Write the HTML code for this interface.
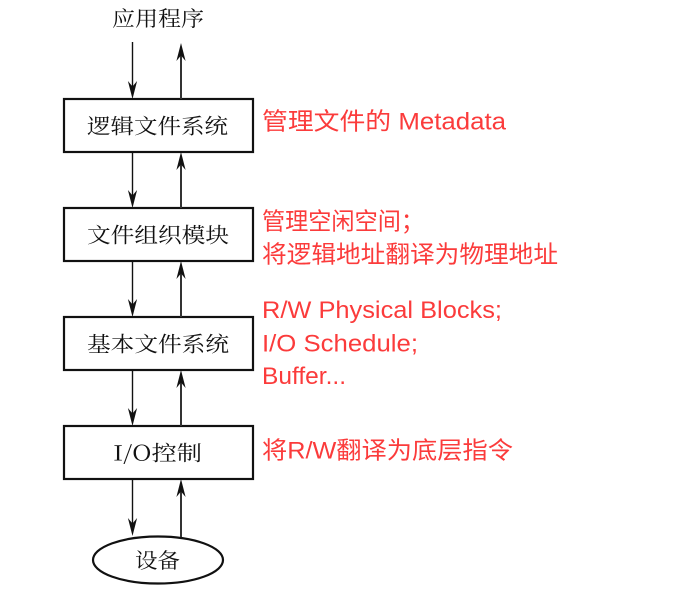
<!DOCTYPE html>
<html>
<head>
<meta charset="utf-8">
<style>
html,body{margin:0;padding:0;background:#fff;}
svg{display:block;}
.b{font-family:"Noto Serif CJK SC","Liberation Serif",serif;font-size:21px;fill:#111;}
.r{font-family:"Liberation Sans","Noto Sans CJK SC",sans-serif;font-size:24px;fill:#fb3b3b;}
</style>
</head>
<body>
<svg width="679" height="595" viewBox="0 0 679 595" xmlns="http://www.w3.org/2000/svg">
<defs>
<path id="hd" d="M0 0 L-4.6 -18 L0 -12.5 L4.6 -18 Z" fill="#111"/>
</defs>

<!-- title -->
<text class="b" x="112" y="26" textLength="92" lengthAdjust="spacingAndGlyphs">应用程序</text>

<!-- boxes -->
<g fill="#fff" stroke="#111" stroke-width="2.2">
<rect x="64" y="99" width="189" height="53"/>
<rect x="64" y="208" width="189" height="53"/>
<rect x="64" y="317" width="189" height="53"/>
<rect x="64" y="426" width="189" height="53"/>
<ellipse cx="158" cy="560" rx="65" ry="23.5"/>
</g>

<!-- box labels -->
<text class="b" x="87" y="133.5" textLength="141" lengthAdjust="spacingAndGlyphs">逻辑文件系统</text>
<text class="b" x="87" y="242.5" textLength="142" lengthAdjust="spacingAndGlyphs">文件组织模块</text>
<text class="b" x="87" y="351.5" textLength="142" lengthAdjust="spacingAndGlyphs">基本文件系统</text>
<text class="b" x="113" y="460.5" textLength="89" lengthAdjust="spacingAndGlyphs">I/O控制</text>
<text class="b" x="135" y="568" textLength="45" lengthAdjust="spacingAndGlyphs">设备</text>

<!-- down arrows -->
<g stroke="#111" stroke-width="1.4">
<line x1="132.5" y1="42" x2="132.5" y2="90"/>
<line x1="132.5" y1="152" x2="132.5" y2="199"/>
<line x1="132.5" y1="261" x2="132.5" y2="308"/>
<line x1="132.5" y1="370" x2="132.5" y2="417"/>
<line x1="132.5" y1="479" x2="132.5" y2="527"/>
</g>
<use href="#hd" x="132.5" y="99"/>
<use href="#hd" x="132.5" y="208"/>
<use href="#hd" x="132.5" y="317"/>
<use href="#hd" x="132.5" y="426"/>
<use href="#hd" x="132.5" y="536"/>

<!-- up arrows -->
<g stroke="#333" stroke-width="2">
<line x1="181" y1="99" x2="181" y2="52"/>
<line x1="181" y1="208" x2="181" y2="161"/>
<line x1="181" y1="317" x2="181" y2="270"/>
<line x1="181" y1="426" x2="181" y2="379"/>
<line x1="181" y1="537" x2="181" y2="488"/>
</g>
<use href="#hd" transform="translate(181 43) rotate(180)"/>
<use href="#hd" transform="translate(181 152) rotate(180)"/>
<use href="#hd" transform="translate(181 261) rotate(180)"/>
<use href="#hd" transform="translate(181 370) rotate(180)"/>
<use href="#hd" transform="translate(181 479) rotate(180)"/>

<!-- red annotations -->
<text class="r" x="262" y="129.5" textLength="244" lengthAdjust="spacingAndGlyphs">管理文件的 Metadata</text>
<text class="r" x="262" y="229.5" textLength="162" lengthAdjust="spacingAndGlyphs">管理空闲空间；</text>
<text class="r" x="262" y="262.5" textLength="296" lengthAdjust="spacingAndGlyphs">将逻辑地址翻译为物理地址</text>
<text class="r" x="262" y="318" font-size="25" textLength="240" lengthAdjust="spacingAndGlyphs">R/W Physical Blocks;</text>
<text class="r" x="262" y="351.5" font-size="25" textLength="156" lengthAdjust="spacingAndGlyphs">I/O Schedule;</text>
<text class="r" x="262" y="384" font-size="25" textLength="84" lengthAdjust="spacingAndGlyphs">Buffer...</text>
<text class="r" x="262" y="458.5" textLength="251" lengthAdjust="spacingAndGlyphs">将R/W翻译为底层指令</text>
</svg>
</body>
</html>
